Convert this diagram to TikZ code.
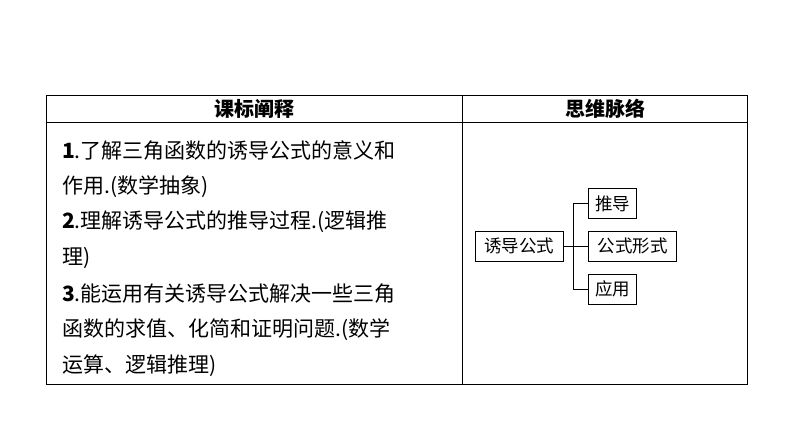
\documentclass[tikz,border=0pt]{standalone}
\usepackage{fontspec}
\setmainfont{Liberation Serif}
\newfontfamily\cjk{Noto Sans CJK SC}
\begin{document}
\begin{tikzpicture}[x=1pt,y=-1pt,
  line/.style={draw=black,line width=1pt},
  mapbox/.style={draw=black,line width=1pt,inner sep=0pt,minimum height=30pt,font=\fontsize{17.5}{17.5}\selectfont\cjk},
  txt/.style={anchor=west,inner sep=0pt,font=\fontsize{21}{21}\selectfont\cjk},
  head/.style={inner sep=0pt,font=\fontsize{20}{20}\selectfont\cjk\bfseries}]
\useasboundingbox (0,0) rectangle (794,447);
\fill[white] (0,0) rectangle (794,447);
\draw[line] (46,95) rectangle (747,384);
\draw[line] (46,122) -- (747,122);
\draw[line] (462,95) -- (462,384);
\node[head] (h1) at (254,109) {课标阐释};
\node[head] (h2) at (605,109) {思维脉络};
\node[txt] (l1) at (62,151) {\textbf{1}.了解三角函数的诱导公式的意义和};
\node[txt] (l2) at (62,187) {作用.(数学抽象)};
\node[txt] (l3) at (62,222) {\textbf{2}.理解诱导公式的推导过程.(逻辑推};
\node[txt] (l4) at (62,258) {理)};
\node[txt] (l5) at (62,294) {\textbf{3}.能运用有关诱导公式解决一些三角};
\node[txt] (l6) at (62,330) {函数的求值、化简和证明问题.(数学};
\node[txt] (l7) at (62,366) {运算、逻辑推理)};
\node[mapbox,minimum width=88pt] (m) at (519,246) {诱导公式};
\node[mapbox,minimum width=48pt,anchor=west] (a) at (588,203.5) {推导};
\node[mapbox,minimum width=88pt,anchor=west] (b) at (588,246) {公式形式};
\node[mapbox,minimum width=48pt,anchor=west] (c) at (588,289) {应用};
\coordinate (j) at (573,246);
\draw[line] (m.east) -- (j);
\draw[line] (a.west) -| (j) |- (c.west);
\draw[line] (j) -- (b.west);
\end{tikzpicture}
\end{document}
